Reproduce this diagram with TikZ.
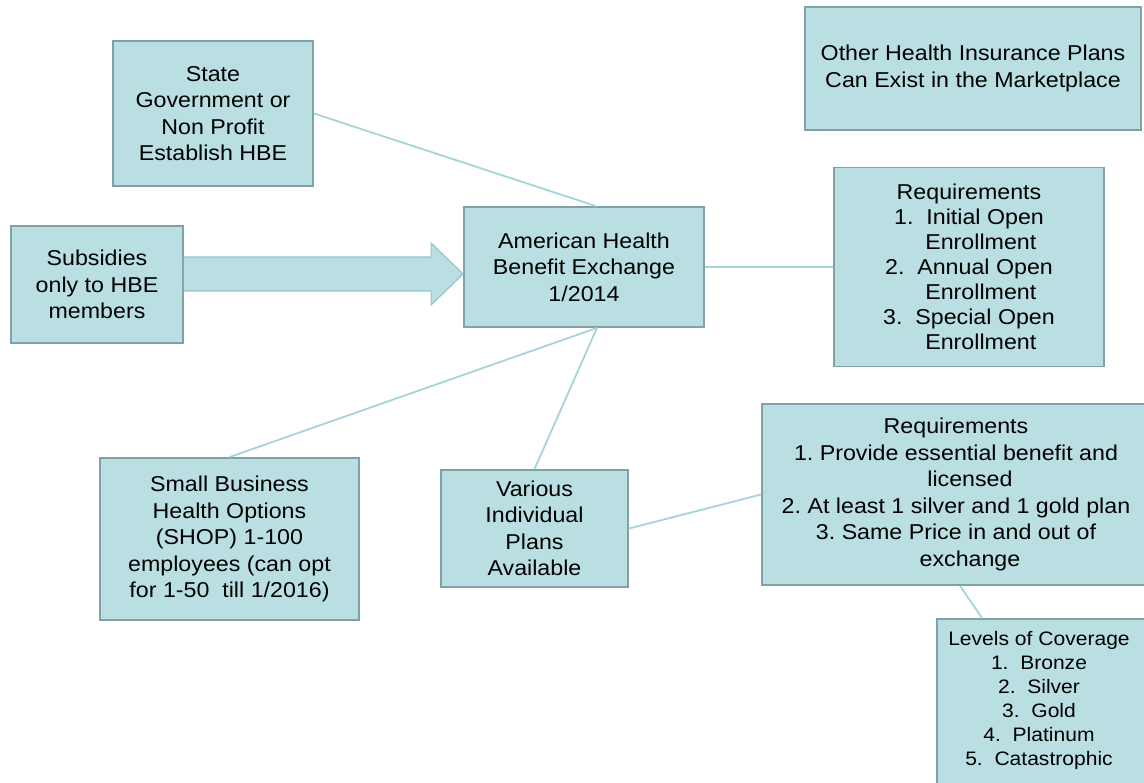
\documentclass[tikz,border=0pt]{standalone}
\usepackage{fontspec}
\setmainfont[FakeStretch=1.08]{Liberation Sans}
\usetikzlibrary{calc}
\definecolor{boxfill}{RGB}{186,223,227}
\definecolor{boxline}{RGB}{128,162,166}
\definecolor{linkline}{RGB}{165,212,217}
\definecolor{arrowline}{RGB}{150,198,203}
\begin{document}
\begin{tikzpicture}[x=1pt,y=-1pt,
  box/.style={draw=boxline, line width=1.8pt, fill=boxfill, inner sep=0pt,
    align=center, font=\fontsize{21.5}{26.5}\selectfont},
  boxtext/.style={inner sep=0pt, align=center},
  link/.style={draw=linkline, line width=1.8pt},
  blockarrow/.style={fill=boxfill, draw=arrowline, line width=1.2pt, line join=miter},
]
\useasboundingbox (0,0) rectangle (1144,783);
\clip (0,0) rectangle (1144,783);

% boxes
\node[box, minimum width=200, minimum height=145] (state) at (213,113.5)
  {State\\Government or\\Non Profit\\Establish HBE};
\node[box, minimum width=172, minimum height=117] (sub) at (97,284.5)
  {Subsidies\\only to HBE\\members};
\node[box, minimum width=240, minimum height=120] (hbe) at (584,267)
  {American Health\\Benefit Exchange\\1/2014};
\node[box, minimum width=336, minimum height=123] (other) at (973,68.5)
  {Other Health Insurance Plans\\Can Exist in the Marketplace};
\node[box, minimum width=270, minimum height=199,
      font=\fontsize{21.5}{25}\selectfont] (req1) at (969,267)
  {Requirements\\1.\ \ Initial Open\\\hspace*{1.1em}Enrollment\\2.\ \ Annual Open\\
   \hspace*{1.1em}Enrollment\\3.\ \ Special Open\\\hspace*{1.1em}Enrollment};
\node[box, minimum width=388, minimum height=181] (req2) at (956,494.5)
  {Requirements\\1.\ Provide essential benefit and\\\hspace*{1.3em}licensed\\
   2.\ At least 1 silver and 1 gold plan\\3.\ Same Price in and out of\\
   \hspace*{1.3em}exchange};
\node[box, minimum width=259, minimum height=162] (shop) at (229.5,539)
  {Small Business\\Health Options\\(SHOP) 1-100\\employees (can opt\\for 1-50\ \ till 1/2016)};
\node[box, minimum width=187, minimum height=117] (various) at (534.5,528.5)
  {Various\\Individual\\Plans\\Available};
\node[box, minimum width=215, minimum height=181] (levels) at (1044.5,709.5) {};
\node[boxtext, font=\fontsize{19.5}{24}\selectfont] (levelstext) at (1039,700)
  {Levels of Coverage\\1.\ \ Bronze\\2.\ \ Silver\\3.\ \ Gold\\4.\ \ Platinum\\5.\ \ Catastrophic};

% connectors
\draw[link] (state.east) -- ($(hbe.north)+(12,0)$);
\draw[link] (hbe.east) -- (req1.west);
\draw[link] ($(hbe.south)+(13,0)$) -- (shop.north);
\draw[link] ($(hbe.south)+(13,0)$) -- (various.north);
\draw[link] (various.east) -- (req2.west);
\draw[link] ($(req2.south)+(4,0)$) -- ($(levels.north west)+(46,0)$);

% block arrow from the subsidies box into the exchange
\coordinate (arrowrow) at (0,274);
\coordinate (tail) at (sub.east |- arrowrow);
\coordinate (tip) at (hbe.west |- arrowrow);
\filldraw[blockarrow]
  ($(tail)+(0,-17)$) -- ($(tip)+(-32,-17)$) -- ($(tip)+(-32,-31)$) -- (tip)
  -- ($(tip)+(-32,31)$) -- ($(tip)+(-32,17)$) -- ($(tail)+(0,17)$);
\end{tikzpicture}
\end{document}
